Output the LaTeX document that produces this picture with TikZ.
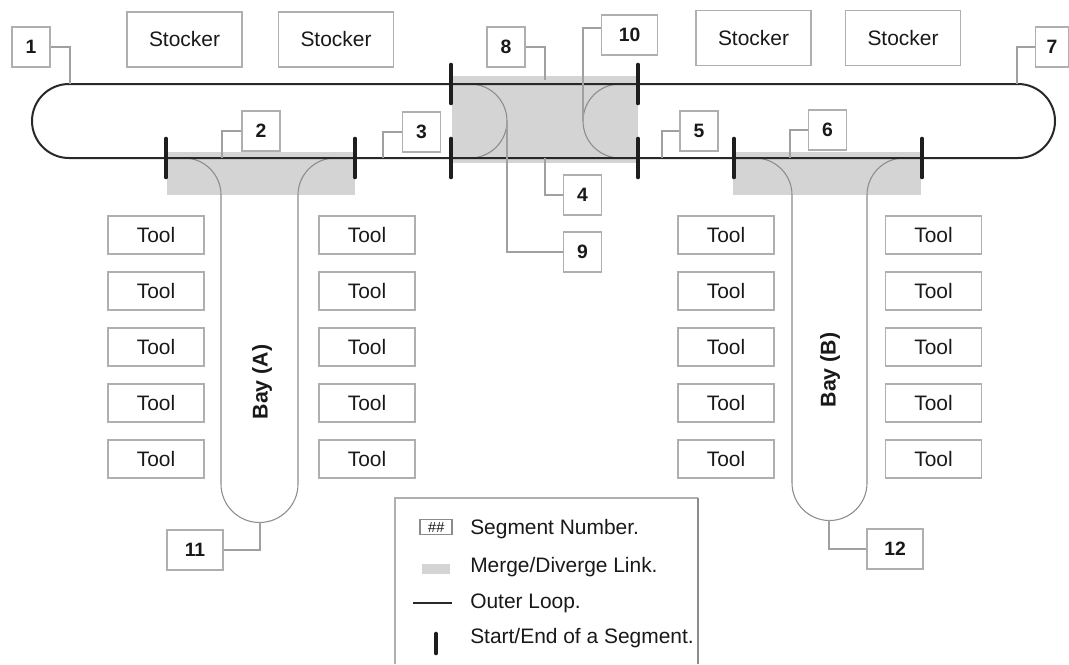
\documentclass[tikz,border=0pt]{standalone}
\usepackage{fontspec}
\setmainfont{Liberation Sans}
\definecolor{boxgray}{RGB}{175,175,175}
\definecolor{leadgray}{RGB}{160,160,160}
\definecolor{loopc}{RGB}{40,40,40}
\definecolor{tubec}{RGB}{140,140,140}
\definecolor{tickc}{RGB}{30,30,30}
\definecolor{linkc}{RGB}{212,212,212}
\definecolor{textc}{RGB}{25,25,25}
\begin{document}
\begin{tikzpicture}[x=0.75pt,y=-0.75pt,
  box/.style={draw=boxgray, line width=0.8pt, fill=white, text=textc, font=\fontsize{15.7}{18}\selectfont, inner sep=0pt},
  toolbox/.style={box, minimum width=72pt, minimum height=28.5pt},
  stockbox/.style={box, minimum width=86.25pt, minimum height=41.25pt},
  seglabel/.style={box, font=\fontsize{14.5}{16}\selectfont\bfseries, minimum width=28.5pt, minimum height=30pt},
  seglabelw/.style={seglabel, minimum width=42pt},
  leader/.style={draw=leadgray, line width=0.8pt},
  loopline/.style={draw=loopc, line width=1.5pt},
  tubeline/.style={draw=tubec, line width=0.8pt},
  tickbar/.style={draw=tickc, line width=3.5pt, line cap=round},
  baylabel/.style={font=\fontsize{16}{18}\selectfont\bfseries, text=textc, rotate=90, inner sep=0pt},
  legtext/.style={font=\fontsize{15.7}{18}\selectfont, text=textc, anchor=west, inner sep=0pt}
]
\useasboundingbox (0,0) rectangle (1069,664);
\fill[white] (0,0) rectangle (1069,664);

% merge/diverge links
\fill[linkc] (167,152) rectangle (355,195);
\fill[linkc] (452,76) rectangle (638,163);
\fill[linkc] (733,152) rectangle (921,195);

% bay tubes
\draw[tubeline] (184,158) arc (-90:0:37) -- (221,484) arc (180:0:38.5) -- (298,195) arc (180:270:37);
\draw[tubeline] (755,158) arc (-90:0:37) -- (792,483) arc (180:0:37.5) -- (867,195) arc (180:270:37);

% crossover semicircles
\draw[tubeline] (470,84) arc (-90:90:37);
\draw[tubeline] (620,84) arc (270:90:37);

% outer loop
\draw[loopline] (69,84) -- (1018,84) arc (-90:90:37) -- (69,158) arc (90:270:37) -- cycle;

% segment ticks
\foreach \x in {166,355,451,638,734,922} { \draw[tickbar] (\x,139) -- (\x,177); }
\foreach \x in {451,638} { \draw[tickbar] (\x,65) -- (\x,103); }

% stockers
\node[stockbox] (s1) at (184.5,39.5) {Stocker};
\node[stockbox] (s2) at (336,39.5) {Stocker};
\node[stockbox] (s3) at (753.5,38) {Stocker};
\node[stockbox] (s4) at (903,38) {Stocker};

% tools
\foreach \r [count=\i] in {235,291,347,403,459} {
  \node[toolbox] (ta\i) at (156,\r) {Tool};
  \node[toolbox] (tb\i) at (367,\r) {Tool};
  \node[toolbox] (tc\i) at (726,\r) {Tool};
  \node[toolbox] (td\i) at (933.5,\r) {Tool};
}

% bay labels
\node[baylabel] (baya) at (262,382) {Bay (A)};
\node[baylabel] (bayb) at (830,370) {Bay (B)};

% leader end points
\coordinate (k1) at (70,84);
\coordinate (k2) at (222,158);
\coordinate (k3) at (383,158);
\coordinate (k8) at (545,80);
\coordinate (k10) at (583,121);
\coordinate (k4) at (545,158);
\coordinate (k9) at (507,121);
\coordinate (k5) at (662,158);
\coordinate (k6) at (790,158);
\coordinate (k7) at (1017,84);
\coordinate (k11) at (260,522);
\coordinate (k12) at (829,520);

% segment labels
\node[seglabel] (l1) at (31,47) {1};
\node[seglabel] (l2) at (261,131) {2};
\node[seglabel] (l3) at (421.5,132) {3};
\node[seglabel] (l8) at (506,47) {8};
\node[seglabelw] (l10) at (629.5,35) {10};
\node[seglabel] (l4) at (582.5,195) {4};
\node[seglabel] (l9) at (582.5,252) {9};
\node[seglabel] (l5) at (699,131) {5};
\node[seglabel] (l6) at (827.5,130) {6};
\node[seglabel, minimum width=24.75pt] (l7) at (1052,47) {7};
\node[seglabelw] (l11) at (195,550) {11};
\node[seglabelw] (l12) at (895,549) {12};

% leaders
\draw[leader] (l1.east) -| (k1);
\draw[leader] (l2.west) -| (k2);
\draw[leader] (l3.west) -| (k3);
\draw[leader] (l8.east) -| (k8);
\draw[leader] ([yshift=5.25pt]l10.west) -| (k10);
\draw[leader] (l4.west) -| (k4);
\draw[leader] (l9.west) -| (k9);
\draw[leader] (l5.west) -| (k5);
\draw[leader] (l6.west) -| (k6);
\draw[leader] (l7.west) -| (k7);
\draw[leader] (l11.east) -| (k11);
\draw[leader] (l12.west) -| (k12);

% legend
\draw[draw=boxgray, line width=0.8pt] (395,664) -- (395,498) -- (698,498);
\draw[draw=tubec, line width=1pt] (698,498) -- (698,664);
\node[draw=tubec, line width=0.8pt, font=\fontsize{11}{12}\selectfont\itshape, text=textc, minimum width=24pt, minimum height=11.25pt, inner sep=0pt] (lg1) at (436,527) {\#\#};
\node[fill=linkc, minimum width=21pt, minimum height=7.5pt, inner sep=0pt] (lg2) at (436,569) {};
\coordinate (lg3a) at (413,603);
\coordinate (lg3b) at (452,603);
\draw[loopline] (lg3a) -- (lg3b);
\coordinate (lg4a) at (436,634);
\coordinate (lg4b) at (436,653);
\draw[tickbar] (lg4a) -- (lg4b);
\node[legtext] (lt1) at (470,529) {Segment Number.};
\node[legtext] (lt2) at (470,567) {Merge/Diverge Link.};
\node[legtext] (lt3) at (470,603) {Outer Loop.};
\node[legtext] (lt4) at (470,638) {Start/End of a Segment.};
\end{tikzpicture}
\end{document}
